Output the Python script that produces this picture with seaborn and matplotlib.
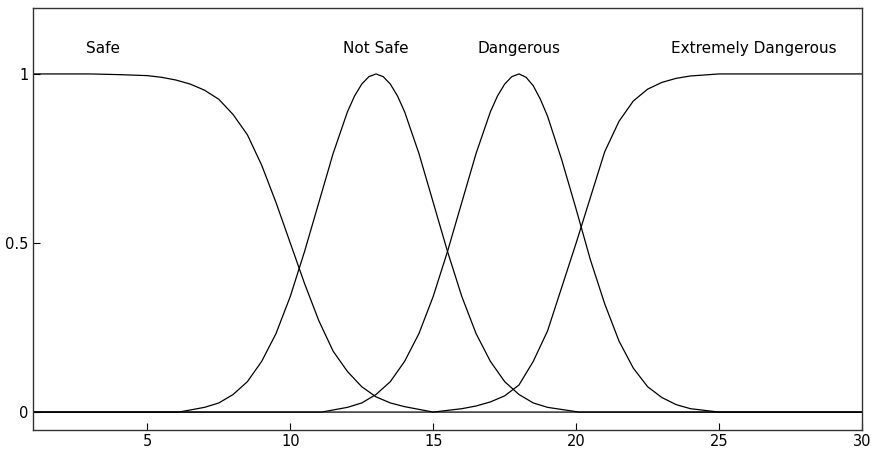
import matplotlib
matplotlib.use("Agg")
import matplotlib.pyplot as plt
import seaborn as sns
import pandas as pd

# ---- data ----
safe_x = [1, 2, 3, 4, 5, 5.5, 6, 6.5, 7, 7.5, 8, 8.5, 9, 9.5, 10, 10.5, 11, 11.5, 12,
          12.5, 13, 13.5, 14, 14.5, 15, 30]
safe_y = [1.0, 1.0, 1.0, 0.998, 0.995, 0.99, 0.982, 0.97, 0.952, 0.925, 0.88, 0.82,
          0.73, 0.62, 0.5, 0.38, 0.27, 0.18, 0.12, 0.075, 0.045, 0.027, 0.016, 0.008, 0.0, 0.0]

notsafe_x = [1, 6.1, 7, 7.5, 8, 8.5, 9, 9.5, 10, 10.5, 11, 11.5, 12, 12.25, 12.5, 12.75, 13,
             13.25, 13.5, 13.75, 14, 14.5, 15, 15.5, 16, 16.5, 17, 17.5, 18, 18.5, 19, 20.1, 30]
notsafe_y = [0.0, 0.0, 0.014, 0.027, 0.052, 0.09, 0.15, 0.232, 0.342, 0.475, 0.62, 0.765,
             0.888, 0.935, 0.97, 0.992, 1.0, 0.992, 0.97, 0.935, 0.888, 0.765, 0.62, 0.475,
             0.342, 0.232, 0.15, 0.09, 0.052, 0.027, 0.014, 0.0, 0.0]

danger_x = [1, 11.1, 12, 12.5, 13, 13.5, 14, 14.5, 15, 15.5, 16, 16.5, 17, 17.25, 17.5,
            17.75, 18, 18.25, 18.5, 18.75, 19, 19.5, 20, 20.5, 21, 21.5, 22, 22.5, 23,
            23.5, 24, 25, 30]
danger_y = [0.0, 0.0, 0.014, 0.027, 0.052, 0.09, 0.15, 0.232, 0.342, 0.475, 0.62, 0.765,
            0.888, 0.935, 0.97, 0.992, 1.0, 0.99, 0.965, 0.925, 0.875, 0.745, 0.6, 0.45,
            0.32, 0.21, 0.13, 0.075, 0.043, 0.022, 0.01, 0.0, 0.0]

extreme_x = [1, 15, 15.5, 16, 16.5, 17, 17.5, 18, 18.5, 19, 19.5, 20, 20.5, 21, 21.5,
             22, 22.5, 23, 23.5, 24, 25, 30]
extreme_y = [0.0, 0.0, 0.005, 0.01, 0.018, 0.03, 0.048, 0.08, 0.15, 0.24, 0.37, 0.5,
             0.635, 0.77, 0.86, 0.92, 0.955, 0.975, 0.987, 0.994, 1.0, 1.0]

labels = ["Safe", "Not Safe", "Dangerous", "Extremely Dangerous"]
label_x = [3.45, 13.0, 18.0, 26.2]
label_y = 1.075

x_ticks = [5, 10, 15, 20, 25, 30]
y_ticks = [0, 0.5, 1]
y_ticklabels = ["0", "0.5", "1"]

# ---- build long table ----
frames = []
for name, xs, ys in zip(labels, [safe_x, notsafe_x, danger_x, extreme_x],
                        [safe_y, notsafe_y, danger_y, extreme_y]):
    frames.append(pd.DataFrame({"x": xs, "y": ys, "set": name}))
df = pd.concat(frames, ignore_index=True)

sns.set_theme(style="white")
plt.rcParams['font.family'] = ['DejaVu Sans']

fig = plt.figure(figsize=(8.71, 4.49), dpi=100)
ax = fig.add_axes([33 / 871, 1 - 430 / 449, (862 - 33) / 871, (430 - 8) / 449])

sns.lineplot(data=df, x="x", y="y", hue="set", units="set", estimator=None,
             palette=["black"] * 4, legend=False, linewidth=0.9, ax=ax, sort=False)

for t, lx in zip(labels, label_x):
    ax.text(lx, label_y, t, ha="center", va="center", fontsize=11, color="black")

ax.set_xlim(1, 30)
ax.set_ylim(-0.053, 1.195)
ax.set_xticks(x_ticks)
ax.set_xticklabels([str(v) for v in x_ticks])
ax.set_yticks(y_ticks)
ax.set_yticklabels(y_ticklabels)
ax.set_xlabel("")
ax.set_ylabel("")
ax.tick_params(axis="both", direction="in", length=5, width=0.8, labelsize=10.5,
               colors="black", bottom=True, left=True, top=False, right=False, pad=3)
for s in ax.spines.values():
    s.set_color("#333333")
    s.set_linewidth(1.0)
    s.set_visible(True)

fig.savefig("out.png", dpi=100)
